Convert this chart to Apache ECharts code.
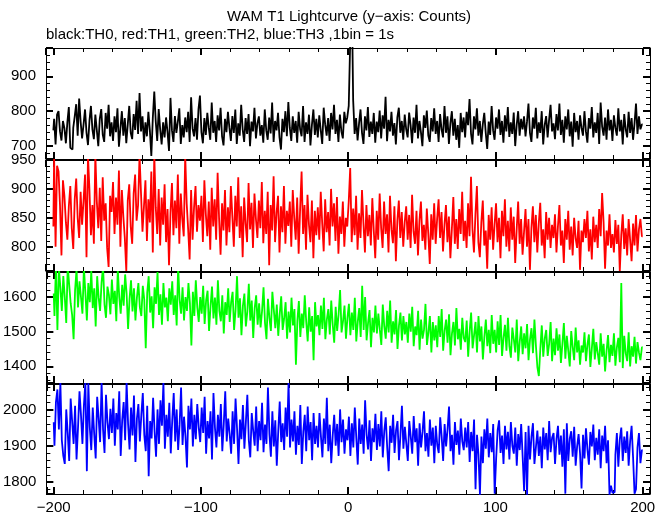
<!DOCTYPE html>
<html><head><meta charset="utf-8">
<script src="https://cdn.jsdelivr.net/npm/echarts@6/dist/echarts.min.js"></script>
<style>html,body{margin:0;padding:0;background:#fff}#c{width:669px;height:515px}</style>
</head><body><div id="c"></div>
<script>
const titleText = 'WAM T1 Lightcurve (y\u2212axis: Counts)';
const subtitleText = 'black:TH0, red:TH1, green:TH2, blue:TH3 ,1bin = 1s';
const binStart = -200;
const binSize = 1;
const seriesNames = ['TH0', 'TH1', 'TH2', 'TH3'];

const th0 = [
745,778,705,790,800,742,716,772,751,708,768,812,695,690,752,785,820,730,836,770,
722,762,805,738,703,772,815,748,720,790,745,700,778,806,733,712,795,750,818,728,
768,715,785,740,808,698,750,800,730,780,708,762,815,738,720,792,746,830,735,852,
742,785,712,768,728,798,745,672,780,856,770,715,806,748,705,768,725,782,740,686,
838,745,712,786,738,770,808,706,760,725,782,740,798,712,840,750,728,780,718,805,
845,740,708,780,732,795,752,718,825,738,772,712,788,745,810,728,702,778,740,798,
752,715,786,738,805,706,765,730,818,748,712,780,735,792,700,770,742,810,722,765,
785,730,760,710,805,745,718,782,736,825,712,772,745,795,725,690,778,740,800,728,
826,752,715,785,738,772,710,798,748,728,815,712,768,735,790,702,760,805,732,778,
725,788,745,706,810,762,730,780,715,795,748,818,735,775,712,790,742,722,798,765,
782,815,1000,995,832,735,780,716,765,805,738,706,785,745,812,726,770,735,795,710,
770,740,802,722,788,750,841,714,775,742,798,730,766,705,782,810,738,772,718,790,
748,725,796,760,708,782,738,818,722,772,740,700,788,752,802,730,712,780,742,808,
735,772,712,792,748,725,815,738,785,706,765,800,730,778,718,760,695,795,740,782,
725,798,760,835,736,705,785,748,808,730,772,712,762,795,738,692,770,732,815,745,
718,782,750,805,732,772,710,788,742,812,726,768,735,796,700,760,800,730,778,748,
785,728,770,822,738,712,782,750,810,722,768,738,800,705,760,786,725,775,818,742,
765,720,792,745,822,732,775,710,785,748,805,728,770,698,795,740,772,718,788,752,
730,800,742,710,780,750,812,725,768,738,795,706,825,756,730,782,718,805,745,775,
715,788,752,730,808,742,775,705,792,748,725,798,738,780,718,765,822,735,785,748,
762];

const th1 = [
835,955,800,940,930,872,785,915,888,842,812,870,905,832,796,882,918,850,815,895,
838,880,925,782,958,898,820,872,805,960,878,832,902,810,920,845,875,798,765,888,
860,912,822,885,838,932,800,898,852,815,758,880,908,835,805,892,925,845,872,958,
892,826,870,915,810,882,842,930,790,960,868,822,900,802,885,838,908,808,865,768,
858,910,820,880,832,925,805,892,848,818,958,875,830,778,898,812,868,905,826,872,
845,888,808,915,856,818,878,795,902,835,882,812,928,848,786,875,828,898,802,868,
825,905,852,800,888,835,920,815,870,782,885,840,808,910,830,876,798,892,848,815,
880,832,912,806,862,822,895,768,872,828,922,808,858,888,790,870,825,905,805,862,
836,878,800,898,850,812,885,788,865,930,822,872,795,890,838,808,880,780,862,820,
868,812,895,840,792,882,825,860,802,900,835,875,810,886,788,852,822,878,800,850,
835,878,936,808,866,820,888,795,858,815,898,840,790,872,818,855,802,884,828,780,
862,812,892,832,798,878,822,856,790,888,830,806,870,775,845,880,815,860,800,842,
870,812,855,798,890,826,805,862,785,845,878,810,838,795,866,822,770,856,812,875,
805,848,882,815,860,792,838,872,808,852,780,830,886,805,848,796,865,822,895,810,
845,798,875,818,921,830,790,856,905,808,782,842,880,802,828,762,855,812,868,795,
838,875,808,850,780,862,818,882,800,845,792,868,812,852,772,830,878,805,848,786,
826,865,800,848,760,832,870,808,855,790,840,876,802,830,780,860,812,850,798,838,
815,856,790,835,872,802,828,772,848,812,862,795,835,785,850,815,798,845,760,828,
808,848,815,862,792,830,778,852,808,838,798,865,818,893,842,762,828,802,856,798,
822,790,846,805,838,758,820,856,796,832,785,848,812,775,840,802,855,792,830,848,
818];

const th2 = [
1610,1545,1690,1505,1685,1628,1560,1660,1600,1525,1690,1635,1582,1548,1478,1620,1680,1570,1645,1600,
1552,1685,1612,1532,1640,1585,1675,1568,1625,1515,1660,1598,1560,1642,1688,1578,1540,1630,1605,1550,
1650,1580,1618,1530,1680,1600,1552,1635,1575,1665,1610,1508,1595,1648,1558,1625,1532,1598,1640,1570,
1545,1632,1592,1452,1612,1660,1555,1602,1510,1628,1580,1672,1548,1608,1520,1640,1570,1598,1530,1625,
1578,1645,1548,1605,1518,1688,1592,1552,1628,1532,1600,1560,1640,1582,1460,1615,1545,1648,1570,1528,
1600,1552,1632,1522,1590,1618,1502,1572,1630,1538,1598,1520,1648,1560,1530,1605,1495,1585,1548,1625,
1528,1585,1615,1505,1562,1660,1540,1596,1490,1575,1610,1515,1558,1638,1532,1590,1482,1568,1605,1520,
1582,1512,1560,1628,1525,1478,1595,1540,1502,1615,1562,1510,1578,1488,1550,1602,1505,1538,1585,1480,
1558,1498,1598,1518,1565,1405,1532,1588,1485,1552,1510,1605,1528,1472,1570,1500,1545,1418,1585,1515,
1548,1490,1575,1508,1598,1478,1535,1565,1492,1590,1520,1468,1572,1502,1550,1620,1498,1530,1575,1480,
1540,1580,1490,1555,1505,1598,1472,1528,1568,1485,1632,1505,1600,1475,1525,1562,1455,1540,1498,1575,
1495,1552,1505,1462,1578,1515,1480,1560,1498,1590,1468,1530,1492,1562,1450,1518,1555,1475,1545,1492,
1528,1468,1552,1500,1572,1458,1515,1490,1560,1448,1535,1480,1505,1580,1462,1498,1545,1440,1528,1475,
1518,1455,1545,1485,1565,1445,1502,1535,1468,1550,1432,1495,1528,1460,1568,1478,1508,1448,1540,1482,
1470,1532,1428,1500,1555,1452,1490,1528,1440,1545,1472,1515,1420,1485,1535,1458,1505,1438,1548,1465,
1505,1440,1530,1462,1548,1430,1482,1520,1445,1540,1458,1425,1512,1478,1440,1535,1415,1470,1515,1435,
1495,1452,1522,1418,1478,1510,1438,1535,1460,1398,1372,1450,1518,1428,1480,1505,1430,1465,1528,1415,
1480,1432,1510,1445,1492,1410,1465,1525,1422,1488,1445,1400,1502,1455,1418,1512,1440,1475,1405,1460,
1440,1498,1415,1462,1492,1398,1452,1508,1420,1470,1438,1405,1495,1428,1465,1385,1445,1490,1412,1462,
1430,1495,1402,1455,1482,1412,1640,1395,1488,1438,1415,1498,1400,1458,1428,1485,1408,1470,1440,1418,
1455];

const th3 = [
1965,1900,2020,2055,1945,2075,1915,1872,1850,2000,1935,1858,2030,1968,1905,2010,1862,1950,2050,1985,
1905,2012,2075,1830,2072,1950,1888,2005,1932,1865,2035,1975,1910,2075,1945,1880,2040,1965,1918,2002,
1935,2030,1900,1990,1945,2050,1872,1970,2020,1915,2075,1960,1890,2005,1928,2038,1855,1975,2015,1912,
1985,2045,1930,1885,2010,1816,1968,1920,2032,1940,1870,2000,1905,2025,1955,2075,1892,1985,1925,2018,
1879,1970,2045,1912,2000,1888,1958,2060,1902,1980,1925,1840,2010,1945,2030,1898,1985,1918,2015,1950,
1910,2005,1935,2035,1878,1968,1920,1995,1862,2045,1950,1895,1985,1925,2015,1885,1960,2050,1912,1975,
1932,1878,1995,1905,2030,1948,1850,1972,1918,2012,1892,1965,2040,1915,1868,1990,1940,1900,2008,1885,
1968,1915,2018,1882,1958,1905,2060,1932,1870,1995,1898,1970,1845,1940,2022,1910,1962,1888,2005,1925,
2075,1895,1972,1912,1995,1875,1955,1902,2012,1850,1938,1985,1885,2008,1915,1965,1860,1990,1905,1955,
1895,1990,1925,1868,1975,1905,2032,1885,1958,1852,1928,1985,1900,1960,1872,2000,1910,1972,1878,1945,
1915,1980,1872,1962,1895,2005,1922,1848,1975,1905,1958,1878,2025,1930,1890,1970,1858,1948,1910,1988,
1888,1960,1898,1995,1868,1940,1978,1895,1830,1955,1908,1985,1880,1942,1968,1860,1930,2010,1892,1952,
1905,1858,1968,1925,1878,1982,1910,1948,1845,1962,1895,1938,1995,1885,1935,1870,1972,1900,1950,1852,
1955,1902,1880,1978,1925,1858,1960,1898,1945,2008,1885,1930,1848,1965,1902,1942,1875,1975,1912,1888,
1950,1895,1965,1855,1938,1885,1972,1780,1930,1875,1765,1925,1852,1945,1892,1975,1868,1935,1882,1960,
1768,1865,1942,1970,1880,1928,1850,1955,1890,1938,1862,1965,1900,1878,1950,1845,1932,1888,1960,1870,
1775,1938,1765,1955,1862,1925,1962,1850,1895,1942,1872,1925,1838,1950,1890,1935,1860,1968,1882,1922,
1935,1850,1918,1955,1875,1928,1842,1945,1768,1962,1858,1920,1940,1870,1952,1845,1898,1932,1878,1782,
1930,1865,1948,1890,1848,1938,1898,1958,1860,1922,1875,1945,1838,1928,1885,1955,1852,1915,1765,1790,
1770,1772,1875,1935,1842,1918,1950,1858,1925,1880,1940,1845,1912,1955,1868,1768,1780,1895,1935,1852,
1888];

const xRange = [-205, 205];
const yRanges = [[663, 981], [758, 950], [1352, 1672], [1767, 2070]];
const yLabelSteps = [100, 50, 100, 100];
const ySplitNumbers = [3, 4, 3, 3];
const seriesColors = ['#000000', '#ff0000', '#00ff00', '#0000ff'];
const allValues = [th0, th1, th2, th3];

// layout
const panelTops = [48, 160, 272, 384];
const panelHeight = 111;
const gridLeft = 46, gridRight = 19;
const FONT = 'Liberation Sans';

function minusFmt(v) { return String(v).replace('-', '\u2212'); }

const grids = [], xAxes = [], yAxes = [], series = [];
const lineC = '#000';
function axisBase(extra) {
  return Object.assign({
    type: 'value',
    axisLine: { show: true, onZero: false, lineStyle: { color: lineC, width: 1 } },
    axisTick: { show: true, inside: true, length: 7, lineStyle: { color: lineC, width: 2 } },
    minorTick: { show: true, splitNumber: 5, length: 4, lineStyle: { color: lineC, width: 1 } },
    splitLine: { show: false },
    minorSplitLine: { show: false }
  }, extra);
}

for (let p = 0; p < 4; p++) {
  grids.push({ left: gridLeft, right: gridRight, top: panelTops[p], height: panelHeight, containLabel: false });
  const isLast = p === 3;
  xAxes.push(axisBase({
    gridIndex: p, position: 'bottom', min: xRange[0], max: xRange[1], splitNumber: 4,
    axisLabel: {
      show: isLast, margin: 6, color: '#000', fontFamily: FONT, fontSize: 15,
      formatter: v => (v % 100 === 0 ? minusFmt(v) : '')
    }
  }));
  xAxes.push(axisBase({
    gridIndex: p, position: 'top', min: xRange[0], max: xRange[1], splitNumber: 4,
    axisLabel: { show: false }
  }));
  const step = yLabelSteps[p];
  yAxes.push(axisBase({
    gridIndex: p, position: 'left', min: yRanges[p][0], max: yRanges[p][1], splitNumber: ySplitNumbers[p],
    axisLabel: {
      show: true, margin: 10, color: '#000', fontFamily: FONT, fontSize: 15,
      formatter: v => (v % step === 0 ? String(v) : '')
    }
  }));
  yAxes.push(axisBase({
    gridIndex: p, position: 'right', min: yRanges[p][0], max: yRanges[p][1], splitNumber: ySplitNumbers[p],
    axisLabel: { show: false }
  }));
  series.push({
    name: seriesNames[p],
    type: 'line',
    xAxisIndex: 2 * p, yAxisIndex: 2 * p,
    data: allValues[p].map((v, i) => [binStart + i * binSize, v]),
    step: 'middle',
    symbol: 'none', showSymbol: false,
    clip: true,
    lineStyle: { color: seriesColors[p], width: 1.8 },
    itemStyle: { color: seriesColors[p] },
    emphasis: { disabled: true },
    animation: false
  });
}

const chart = echarts.init(document.getElementById('c'), null, { renderer: 'canvas' });
chart.setOption({
  animation: false,
  backgroundColor: '#ffffff',
  grid: grids,
  xAxis: xAxes,
  yAxis: yAxes,
  series: series,
  graphic: [
    { type: 'text', x: 349, y: 17, style: { text: titleText, fill: '#000', font: '15px "' + FONT + '"', align: 'center', verticalAlign: 'middle' } },
    { type: 'text', x: 46, y: 35, style: { text: subtitleText, fill: '#000', font: '15px "' + FONT + '"', align: 'left', verticalAlign: 'middle' } }
  ]
});
</script>
</body></html>
